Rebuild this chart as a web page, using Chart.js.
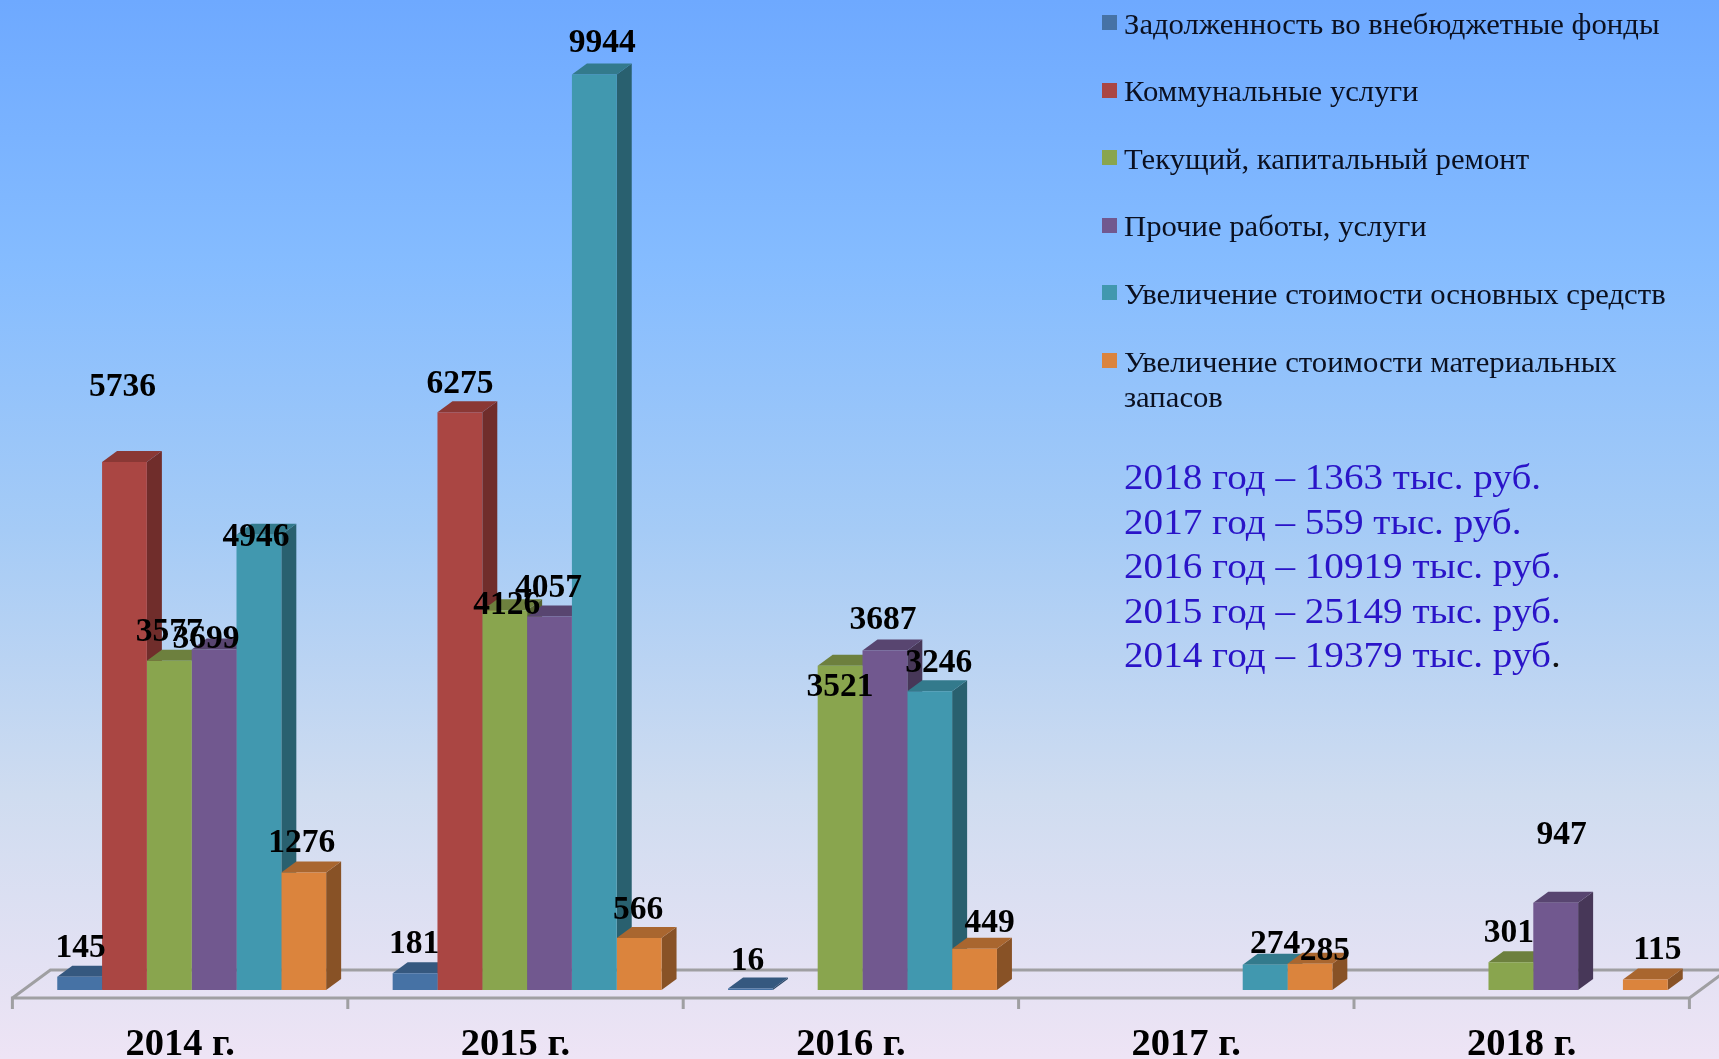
<!DOCTYPE html>
<html lang="ru"><head><meta charset="utf-8">
<script src="https://cdn.jsdelivr.net/npm/chart.js@4"></script>
<style>
html,body{margin:0;padding:0;width:1719px;height:1059px;overflow:hidden}
body{background:linear-gradient(to bottom,#6ea9ff 0%,#85bcff 25%,#a5cbf6 50%,#cfdcf0 75%,#eee4f5 100%);position:relative;font-family:"Liberation Serif",serif}
#c{position:absolute;left:0;top:0;filter:blur(.6px)}
#lg,#notes{position:absolute;left:0;top:0;filter:blur(.5px)}
.li{position:absolute;left:1124px;width:530px;font-size:28.5px;line-height:35px;color:#0b1020;transform:scaleX(1.077);transform-origin:left top}
.mk{position:absolute;left:1102px;width:15px;height:15px}
.nt{position:absolute;left:1124px;font-size:36.5px;line-height:44px;color:#2a14c8;white-space:nowrap;transform:scaleX(1.073);transform-origin:left top}
.nt b{font-weight:normal;color:#111}
</style></head><body>
<canvas id="c" width="1719" height="1059"></canvas>
<div id="lg"></div><div id="notes"></div>
<script>
const categories=["2014 г.","2015 г.","2016 г.","2017 г.","2018 г."];
const seriesNames=["Задолженность во внебюджетные фонды","Коммунальные услуги","Текущий, капитальный ремонт","Прочие работы, услуги","Увеличение стоимости основных средств","Увеличение стоимости материальных запасов"];
const debtFunds=[145,181,16,null,null];
const utilities=[5736,6275,null,null,null];
const repairs=[3577,4126,3521,null,301];
const otherWorks=[3699,4057,3687,null,947];
const fixedAssets=[4946,9944,3246,274,null];
const materials=[1276,566,449,285,115];
const seriesValues=[debtFunds,utilities,repairs,otherWorks,fixedAssets,materials];
const frontColors=["#4672a5","#aa4643","#89a54e","#71588f","#4198af","#db843d"];
const topColors=["#35587f","#8a3835","#6d803e","#584570","#337a8c","#a9662f"];
const sideColors=["#2a4666","#702d2b","#566432","#473758","#29606f","#885226"];
const yearNotes=["2018 год – 1363 тыс. руб.","2017 год – 559 тыс. руб.","2016 год – 10919 тыс. руб.","2015 год – 25149 тыс. руб.","2014 год – 19379 тыс. руб."];
/* label nudges in px from each bar's top centre, per series and category */
const labelNudges=[
 [[1,-28],[-1,-29],[-3,-27],null,null],
 [[-2,-75],[0,-28],null,null,null],
 [[0,-28],[2,-5],[0,21],null,[-2,-29]],
 [[-8,-10],[-1,-28],[-2,-30],null,[6,-67]],
 [[-3,3],[8,-31],[9,-28],[10,-20],null],
 [[-2,-29],[-1,-28],[15,-25],[15,-12],[12,-29]]
];
const DX=15,DY=11,FLOOR_SHIFT=11.6,FLOOR_FRONT=8,FLOOR_BACK=20,FLOOR_DX=38,TICK=11;
const box3d={id:"box3d",
 beforeDatasetsDraw(chart){
  const ctx=chart.ctx,xs=chart.scales.x,a=chart.chartArea,base=chart.scales.y.getPixelForValue(0);
  const L=a.left-FLOOR_SHIFT,R=a.right-FLOOR_SHIFT,fy=base+FLOOR_FRONT,by=base-FLOOR_BACK;
  ctx.save();ctx.strokeStyle="#9f9fa2";ctx.lineWidth=3;ctx.beginPath();
  ctx.moveTo(L,fy+TICK);ctx.lineTo(L,fy);ctx.lineTo(R,fy);ctx.lineTo(R,fy+TICK);
  ctx.moveTo(L,fy);ctx.lineTo(L+FLOOR_DX,by);ctx.lineTo(R+FLOOR_DX,by);ctx.lineTo(R,fy);
  const w=(a.right-a.left)/categories.length;
  categories.forEach((c,i)=>{if(i){const x=xs.getPixelForValue(i)-w/2-FLOOR_SHIFT;ctx.moveTo(x,fy);ctx.lineTo(x,fy+TICK);}});
  ctx.stroke();
  categories.forEach((c,i)=>{
   seriesValues.forEach((s,k)=>{
    if(s[i]==null)return;
    const b=chart.getDatasetMeta(k).data[i],x0=b.x-b.width/2,x1=b.x+b.width/2,y=b.y;
    ctx.fillStyle=sideColors[k];ctx.beginPath();
    ctx.moveTo(x1,y);ctx.lineTo(x1+DX,y-DY);ctx.lineTo(x1+DX,base-DY);ctx.lineTo(x1,base);ctx.closePath();ctx.fill();
    ctx.fillStyle=topColors[k];ctx.beginPath();
    ctx.moveTo(x0,y);ctx.lineTo(x1,y);ctx.lineTo(x1+DX,y-DY);ctx.lineTo(x0+DX,y-DY);ctx.closePath();ctx.fill();
   });
  });
  ctx.restore();
 },
 afterDatasetsDraw(chart){
  const ctx=chart.ctx;ctx.save();
  ctx.font='bold 33.5px "Liberation Serif"';ctx.fillStyle="#000";ctx.textAlign="center";ctx.textBaseline="middle";
  seriesValues.forEach((s,k)=>s.forEach((v,i)=>{
   if(v==null)return;
   const b=chart.getDatasetMeta(k).data[i],n=labelNudges[k][i];
   ctx.fillText(String(v),b.x+n[0],b.y+n[1]);
  }));
  ctx.restore();
 }
};
new Chart(document.getElementById("c"),{
 type:"bar",
 data:{labels:categories,datasets:seriesNames.map((n,k)=>({label:n,data:seriesValues[k],backgroundColor:frontColors[k],borderWidth:0,barPercentage:1,categoryPercentage:268.8/335.3}))},
 options:{responsive:false,animation:false,
  layout:{padding:{left:24,right:18,top:69.4,bottom:0}},
  plugins:{legend:{display:false},tooltip:{enabled:false}},
  scales:{
   x:{grid:{display:false},border:{display:false},afterFit(ax){ax.height=69;},
      ticks:{font:{family:'"Liberation Serif"',size:38.5,weight:"bold"},color:"#000",labelOffset:-FLOOR_SHIFT,padding:24,maxRotation:0,autoSkip:false}},
   y:{display:false,min:0,max:10000}
  }},
 plugins:[box3d]
});
const lg=document.getElementById("lg");
seriesNames.forEach((n,k)=>{
 const t=document.createElement("div");t.className="li";t.textContent=n;t.style.top=(6.5+k*67.6)+"px";lg.appendChild(t);
 const m=document.createElement("div");m.className="mk";m.style.background=frontColors[k];m.style.top=(15+k*67.6)+"px";lg.appendChild(m);
});
const notes=document.getElementById("notes");
yearNotes.forEach((n,k)=>{
 const t=document.createElement("div");t.className="nt";t.style.top=(455+k*44.5)+"px";
 if(k===yearNotes.length-1){t.textContent=n.slice(0,-1);const d=document.createElement("b");d.textContent=".";t.appendChild(d);}else t.textContent=n;
 notes.appendChild(t);
});
</script></body></html>
